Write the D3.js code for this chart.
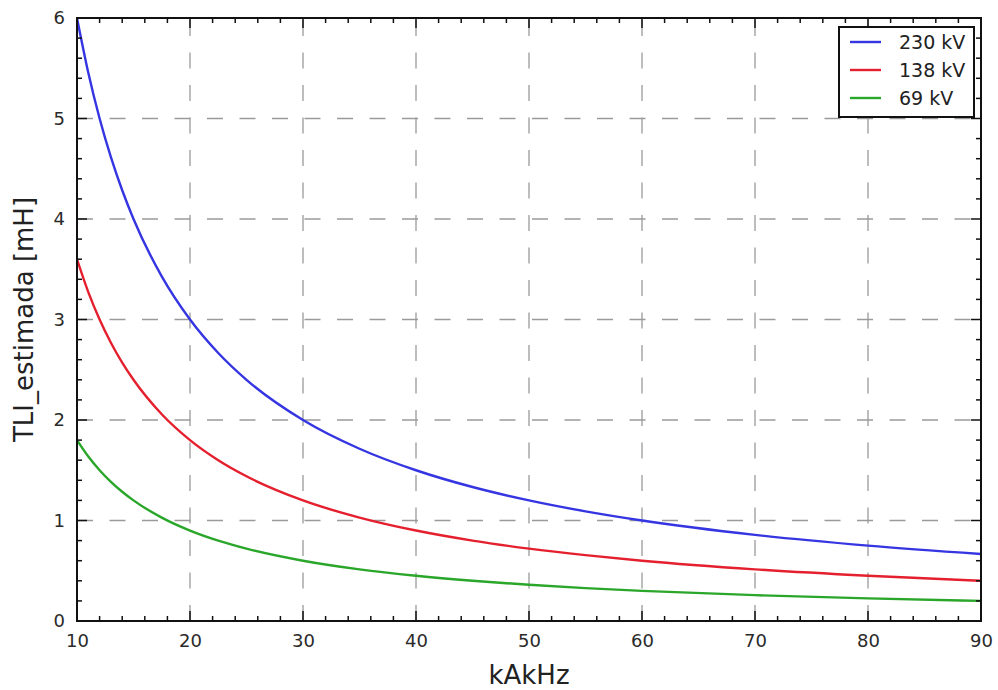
<!DOCTYPE html>
<html>
<head>
<meta charset="utf-8">
<script src="https://cdn.jsdelivr.net/npm/d3@7"></script>
<style>
  html, body { margin: 0; padding: 0; background: #fff; }
  svg { display: block; font-family: "DejaVu Sans", sans-serif; }
</style>
</head>
<body>
<svg id="chart" width="998" height="690"></svg>
<script>
// Frequency samples (kAkHz)
const freq = [10, 11, 12, 13, 14, 15, 17.5, 20, 22.5, 25, 30, 35, 40, 45, 50, 55, 60, 70, 80, 90];
// Estimated TLI inductance [mH] per voltage level
const tli230 = [6.0, 5.455, 5.0, 4.615, 4.286, 4.0, 3.429, 3.0, 2.667, 2.4, 2.0, 1.714, 1.5, 1.333, 1.2, 1.091, 1.0, 0.857, 0.75, 0.667];
const tli138 = [3.6, 3.273, 3.0, 2.769, 2.571, 2.4, 2.057, 1.8, 1.6, 1.44, 1.2, 1.029, 0.9, 0.8, 0.72, 0.655, 0.6, 0.514, 0.45, 0.4];
const tli69  = [1.8, 1.636, 1.5, 1.385, 1.286, 1.2, 1.029, 0.9, 0.8, 0.72, 0.6, 0.514, 0.45, 0.4, 0.36, 0.327, 0.3, 0.257, 0.225, 0.2];
const seriesNames = ["230 kV", "138 kV", "69 kV"];
const xTicks = [10, 20, 30, 40, 50, 60, 70, 80, 90];
const yTicks = [0, 1, 2, 3, 4, 5, 6];

const colors = ["#3535e2", "#e5202e", "#2aa62a"];
const series = [tli230, tli138, tli69].map((vals, i) => ({
  name: seriesNames[i],
  color: colors[i],
  points: freq.map((f, j) => ({ x: f, y: vals[j] }))
}));

const W = 998, H = 690;
const margin = { top: 18, right: 17, bottom: 69, left: 77 };
const iw = W - margin.left - margin.right;
const ih = H - margin.top - margin.bottom;

const svg = d3.select("#chart");
const g = svg.append("g").attr("transform", `translate(${margin.left},${margin.top})`);

const x = d3.scaleLinear().domain([10, 90]).range([0, iw]);
const y = d3.scaleLinear().domain([0, 6]).range([ih, 0]);

// dashed grid at major ticks
const grid = g.append("g").attr("stroke", "#9a9a9a").attr("stroke-width", 1.3)
  .attr("stroke-dasharray", "16,16.5").attr("fill", "none");
xTicks.slice(1, -1).forEach(t => {
  grid.append("path").attr("d", d3.line()([[x(t), ih], [x(t), 0]]));
});
yTicks.slice(1, -1).forEach(t => {
  grid.append("path").attr("d", d3.line()([[0, y(t)], [iw, y(t)]]));
});

// curves
const line = d3.line().x(d => x(d.x)).y(d => y(d.y)).curve(d3.curveMonotoneX);
const clip = svg.append("defs").append("clipPath").attr("id", "plotclip");
clip.append("rect").attr("width", iw).attr("height", ih);
const curves = g.append("g").attr("clip-path", "url(#plotclip)");
series.forEach(s => {
  curves.append("path").datum(s.points)
    .attr("d", line)
    .attr("fill", "none")
    .attr("stroke", s.color)
    .attr("stroke-width", 2.4);
});

// inward ticks on all four sides
const xMinor = d3.range(10, 90.01, 2).filter(v => v % 10 !== 0);
const yMinor = d3.range(0, 6.001, 0.2).map(v => +v.toFixed(1)).filter(v => Math.abs(v - Math.round(v)) > 1e-6);
const tickG = g.append("g").attr("stroke", "#111").attr("stroke-width", 1.5);
const major = 10, minor = 5;
xTicks.forEach(t => {
  tickG.append("line").attr("x1", x(t)).attr("x2", x(t)).attr("y1", ih).attr("y2", ih - major);
  tickG.append("line").attr("x1", x(t)).attr("x2", x(t)).attr("y1", 0).attr("y2", major);
});
xMinor.forEach(t => {
  tickG.append("line").attr("x1", x(t)).attr("x2", x(t)).attr("y1", ih).attr("y2", ih - minor);
  tickG.append("line").attr("x1", x(t)).attr("x2", x(t)).attr("y1", 0).attr("y2", minor);
});
yTicks.forEach(t => {
  tickG.append("line").attr("x1", 0).attr("x2", major).attr("y1", y(t)).attr("y2", y(t));
  tickG.append("line").attr("x1", iw).attr("x2", iw - major).attr("y1", y(t)).attr("y2", y(t));
});
yMinor.forEach(t => {
  tickG.append("line").attr("x1", 0).attr("x2", minor).attr("y1", y(t)).attr("y2", y(t));
  tickG.append("line").attr("x1", iw).attr("x2", iw - minor).attr("y1", y(t)).attr("y2", y(t));
});

// frame
g.append("rect").attr("width", iw).attr("height", ih)
  .attr("fill", "none").attr("stroke", "#111").attr("stroke-width", 2);

// tick labels
const xAxis = d3.axisBottom(x).tickValues(xTicks).tickSize(0).tickPadding(13).tickFormat(d3.format("d"));
const xa = g.append("g").attr("transform", `translate(0,${ih})`).call(xAxis);
const yAxis = d3.axisLeft(y).tickValues(yTicks).tickSize(0).tickPadding(12).tickFormat(d3.format("d"));
const ya = g.append("g").call(yAxis);
[xa, ya].forEach(a => {
  a.select(".domain").remove();
  a.selectAll("text").attr("font-family", "DejaVu Sans, sans-serif").attr("font-size", 18).attr("fill", "#2a2a2a");
});

// axis titles
svg.append("text")
  .attr("x", margin.left + iw / 2).attr("y", 684)
  .attr("text-anchor", "middle").attr("font-size", 26).attr("fill", "#222")
  .text("kAkHz");
svg.append("text")
  .attr("transform", `translate(33,${margin.top + ih / 2}) rotate(-90)`)
  .attr("text-anchor", "middle").attr("font-size", 26).attr("fill", "#222")
  .text("TLI_estimada [mH]");

// legend
const lg = svg.append("g").attr("transform", "translate(839,27)");
lg.append("rect").attr("width", 135).attr("height", 90)
  .attr("fill", "#fff").attr("stroke", "#111").attr("stroke-width", 2);
series.forEach((s, i) => {
  const cy = 15 + i * 28;
  lg.append("line").attr("x1", 11).attr("x2", 42).attr("y1", cy).attr("y2", cy)
    .attr("stroke", s.color).attr("stroke-width", 2.4);
  lg.append("text").attr("x", 60).attr("y", cy + 7)
    .attr("font-size", 19).attr("fill", "#222").text(s.name);
});
</script>
</body>
</html>
